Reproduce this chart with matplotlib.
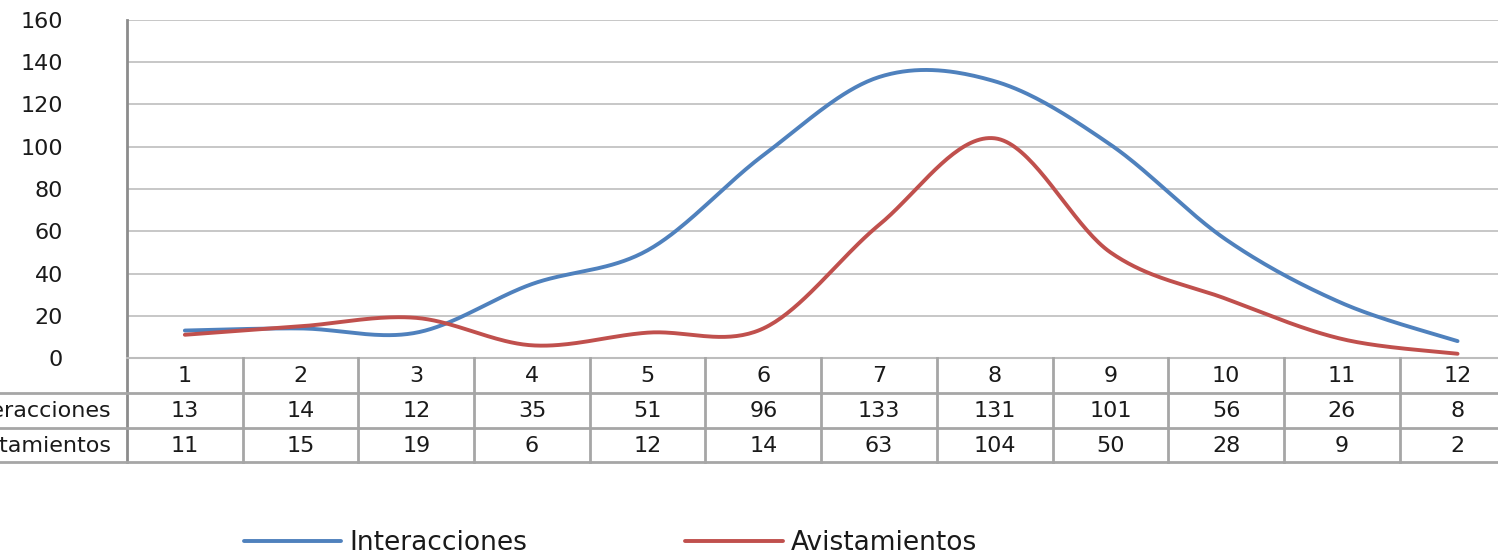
import numpy as np
import matplotlib
matplotlib.use("Agg")
import matplotlib.pyplot as plt
from matplotlib.transforms import blended_transform_factory

# datos
meses = ["1", "2", "3", "4", "5", "6", "7", "8", "9", "10", "11", "12"]
interacciones = [13, 14, 12, 35, 51, 96, 133, 131, 101, 56, 26, 8]
avistamientos = [11, 15, 19, 6, 12, 14, 63, 104, 50, 28, 9, 2]
series_names = ["Interacciones", "Avistamientos"]
y_ticks = [0, 20, 40, 60, 80, 100, 120, 140, 160]

W, H = 1498, 552
BLUE = "#4F81BD"
RED = "#C0504D"
GRID = "#BDBDBD"
TXT = "#1a1a1a"

plt.rcParams["font.family"] = ["DejaVu Sans"]
plt.rcParams["font.size"] = 16


def smooth(xs, ys, n=40):
    # curva suavizada tipo Excel (bezier con puntos de control 1/6)
    xs = np.asarray(xs, float)
    ys = np.asarray(ys, float)
    px = np.concatenate([[xs[0]], xs, [xs[-1]]])
    py = np.concatenate([[ys[0]], ys, [ys[-1]]])
    out_x, out_y = [], []
    t = np.linspace(0, 1, n)
    for i in range(1, len(px) - 2):
        p0 = np.array([px[i], py[i]])
        p3 = np.array([px[i + 1], py[i + 1]])
        c1 = p0 + (np.array([px[i + 1], py[i + 1]]) - np.array([px[i - 1], py[i - 1]])) / 6
        c2 = p3 - (np.array([px[i + 2], py[i + 2]]) - np.array([px[i], py[i]])) / 6
        b = ((1 - t) ** 3)[:, None] * p0 + (3 * (1 - t) ** 2 * t)[:, None] * c1 \
            + (3 * (1 - t) * t ** 2)[:, None] * c2 + (t ** 3)[:, None] * p3
        out_x.extend(b[:, 0])
        out_y.extend(b[:, 1])
    return out_x, out_y


fig = plt.figure(figsize=(W / 100, H / 100), dpi=100)
col_w = 115.7
ax = fig.add_axes([127 / W, (H - 358) / H, 12 * col_w / W, 338 / H])
x = np.arange(1, 13)
ax.set_xlim(0.5, 12.5)
ax.set_ylim(0, 160)

for vals, color, name in [(interacciones, BLUE, series_names[0]),
                          (avistamientos, RED, series_names[1])]:
    sx, sy = smooth(x, vals)
    ax.plot(sx, sy, color=color, lw=2.8, label=name, solid_capstyle="round")

ax.set_yticks(y_ticks)
ax.set_yticklabels([str(v) for v in y_ticks], color=TXT)
ax.tick_params(axis="y", length=0, pad=46)
ax.set_xticks([])
ax.grid(axis="y", color=GRID, lw=1.2)
ax.set_axisbelow(True)
for s in ["top", "right", "bottom", "left"]:
    ax.spines[s].set_visible(False)

# tabla de datos
bl = blended_transform_factory(ax.transData, fig.transFigure)


def fy(ypx):
    return 1 - ypx / H


x0 = -0.5 - 127 / col_w  # borde izquierdo de la figura en datos
x1 = 12.5
ax.plot([0.5, 0.5], [fy(20), fy(462)], transform=bl, color="#8C8C8C", lw=2, clip_on=False)
ax.plot([0.5, x1], [fy(358), fy(358)], transform=bl, color=GRID, lw=1.5, clip_on=False)
for ypx in [393, 428, 462]:
    ax.plot([x0, x1], [fy(ypx), fy(ypx)], transform=bl, color="#A6A6A6", lw=2, clip_on=False)
for k in range(1, 12):
    ax.plot([k + 0.5, k + 0.5], [fy(358), fy(462)], transform=bl, color="#A6A6A6", lw=2, clip_on=False)

for i in range(12):
    ax.text(x[i], fy(376), meses[i], transform=bl, ha="center", va="center", color=TXT, clip_on=False)
    ax.text(x[i], fy(411), str(interacciones[i]), transform=bl, ha="center", va="center", color=TXT, clip_on=False)
    ax.text(x[i], fy(446), str(avistamientos[i]), transform=bl, ha="center", va="center", color=TXT, clip_on=False)

fig.text(112 / W, fy(411), series_names[0], ha="right", va="center", color=TXT)
fig.text(112 / W, fy(446), series_names[1], ha="right", va="center", color=TXT)

leg = fig.legend(loc="center left", bbox_to_anchor=(233 / W, fy(543)), ncol=2, frameon=False,
                 handlelength=3.7, handletextpad=0.3, columnspacing=6.0, fontsize=19,
                 borderaxespad=0, borderpad=0.4)
for t in leg.get_texts():
    t.set_color(TXT)

fig.savefig("out.png", dpi=100)
